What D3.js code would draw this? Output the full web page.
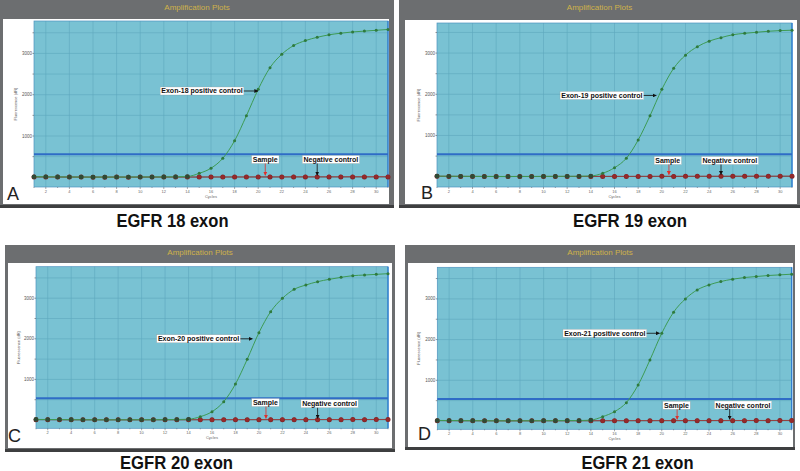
<!DOCTYPE html>
<html><head><meta charset="utf-8">
<script src="https://cdn.jsdelivr.net/npm/d3@7/dist/d3.min.js"></script>
<style>body{margin:0;background:#fff}svg{display:block}</style>
</head><body><svg id="c" width="800" height="471"></svg>
<script>
// ---------------- DATA ----------------
const cycles = [1,2,3,4,5,6,7,8,9,10,11,12,13,14,15,16,17,18,19,20,21,22,23,24,25,26,27,28,29,30,31];
const xTickValues = [2,4,6,8,10,12,14,16,18,20,22,24,26,28,30];
const yTickValues = [1000,2000,3000];
const yGridValues = [500,1000,1500,2000,2500,3000,3500];
const panelLetters = ["A","B","C","D"];
const panelTitles = ["EGFR 18 exon","EGFR 19 exon","EGFR 20 exon","EGFR 21 exon"];
const positiveLabels = ["Exon-18 positive control","Exon-19 positive control","Exon-20 positive control","Exon-21 positive control"];
const positiveExon18 = [15,12,10,8,6,5,5,6,6,8,8,10,12,20,95,220,460,886,1490,2130,2655,2980,3190,3310,3390,3450,3490,3520,3540,3560,3580];
const positiveExon19 = [14,12,10,8,6,5,5,6,6,8,8,10,12,18,82,218,447,890,1480,2120,2630,2950,3155,3290,3375,3445,3480,3505,3530,3545,3555];
const positiveExon20 = [15,13,11,9,7,6,5,6,6,8,8,10,12,20,82,205,452,887,1494,2151,2668,2997,3218,3325,3407,3465,3514,3555,3571,3588,3604];
const positiveExon21 = [14,12,10,8,6,5,5,6,6,8,8,10,12,22,107,230,451,885,1500,2156,2672,3000,3221,3344,3426,3484,3525,3549,3574,3590,3607];
const sampleValues = [12,10,8,8,6,6,5,6,5,6,7,6,8,7,8,9,8,10,9,10,11,10,12,11,12,13,12,14,13,14,15];
const negativeValues = [8,7,6,5,5,4,4,5,4,5,5,6,5,6,6,7,6,7,7,8,7,8,8,9,8,9,9,10,9,10,10];
const thresholdValues = [557,544,534,540];
const positiveSeries = [positiveExon18, positiveExon19, positiveExon20, positiveExon21];

// ---------------- LAYOUT ----------------
const panels = [
  {frame:[0,0,394,208], inner:[3,19,389,204], plot:[34,21,388,187], yDom:[-235,3785], axisTitleX:17,
   letter:[7,199.5], title:[172.5,227,112],
   pos:{labelEnd:18.68,labelV:2090,tipC:19.98,tipV:2090},
   samp:{labelC:20.6,labelV:431,tipC:20.6,tipV:50},
   neg:{labelC:26.16,labelV:431,tipC:25.0,tipV:50}},
  {frame:[399,0,800,208], inner:[405,20,797,204], plot:[437,23,792,187], yDom:[-250,3730], axisTitleX:420,
   letter:[421,198.5], title:[630,227,114],
   pos:{labelEnd:18.37,labelV:1971,tipC:19.53,tipV:1971},
   samp:{labelC:20.5,labelV:393,tipC:20.6,tipV:50},
   neg:{labelC:25.75,labelV:393,tipC:25.0,tipV:50}},
  {frame:[5,245,395,452], inner:[8,263,392,448], plot:[36,266.7,388,428.3], yDom:[-204,3776], axisTitleX:20,
   letter:[8,441.5], title:[176.5,468.5,113],
   pos:{labelEnd:18.32,labelV:2000,tipC:19.44,tipV:2000},
   samp:{labelC:20.55,labelV:431,tipC:20.6,tipV:40},
   neg:{labelC:26.02,labelV:401,tipC:25.0,tipV:40}},
  {frame:[405,245,795,450], inner:[408,263,793,447], plot:[437.3,267.3,791.7,429.3], yDom:[-204,3776], axisTitleX:420,
   letter:[418,440], title:[637.5,468.5,112],
   pos:{labelEnd:18.62,labelV:2155,tipC:19.81,tipV:2155},
   samp:{labelC:21.25,labelV:386,tipC:21.3,tipV:40},
   neg:{labelC:26.88,labelV:393,tipC:25.75,tipV:40}}
];

const svg = d3.select("#c");
const defs = svg.append("defs");
function marker(id, color){
  defs.append("marker").attr("id",id).attr("viewBox","0 0 10 10").attr("refX",9).attr("refY",5)
    .attr("markerWidth",4).attr("markerHeight",4).attr("markerUnits","userSpaceOnUse").attr("orient","auto")
    .append("path").attr("d","M0,0L10,5L0,10Z").attr("fill",color);
}
marker("arrK","#111");
marker("arrR","#e0302c");

const FONT = "Liberation Sans, Arial, Helvetica, sans-serif";

panels.forEach((p, i) => {
  const g = svg.append("g");
  const [fx0, fy0, fx1, fy1] = p.frame;
  const [ix0, iy0, ix1, iy1] = p.inner;
  const [px0, py0, px1, py1] = p.plot;
  // frame
  g.append("rect").attr("x",fx0).attr("y",fy0).attr("width",fx1-fx0).attr("height",fy1-fy0).attr("fill","#6c6e70");
  g.append("rect").attr("x",fx0).attr("y",fy1-3).attr("width",fx1-fx0).attr("height",3).attr("fill","#3e3f40");
  g.append("text").attr("x",(fx0+fx1)/2).attr("y",fy0+10).attr("text-anchor","middle")
    .attr("font-family",FONT).attr("font-size",8).attr("fill","#cfb24a").text("Amplification Plots");
  g.append("rect").attr("x",ix0).attr("y",iy0).attr("width",ix1-ix0).attr("height",iy1-iy0).attr("fill","#ffffff");

  const x = d3.scaleLinear().domain([1,31]).range([px0,px1]);
  const y = d3.scaleLinear().domain(p.yDom).range([py1,py0]);

  // plot background
  g.append("rect").attr("x",px0).attr("y",py0).attr("width",px1-px0).attr("height",py1-py0).attr("fill","#79c2d3");
  // grid
  g.selectAll(".vg").data(xTickValues).enter().append("line")
    .attr("x1",d=>x(d)).attr("x2",d=>x(d)).attr("y1",py0).attr("y2",py1)
    .attr("stroke","#5ea7bd").attr("stroke-width",0.6);
  g.selectAll(".hg").data(yGridValues).enter().append("line")
    .attr("x1",px0).attr("x2",px1).attr("y1",d=>y(d)).attr("y2",d=>y(d))
    .attr("stroke","#5ea7bd").attr("stroke-width",0.6);
  // plot border
  g.append("rect").attr("x",px0).attr("y",py0).attr("width",px1-px0).attr("height",py1-py0)
    .attr("fill","none").attr("stroke","#4f93bf").attr("stroke-width",0.7);
  g.append("line").attr("x1",px1).attr("x2",px1).attr("y1",py0).attr("y2",py1)
    .attr("stroke","#2f7fd0").attr("stroke-width",1.4);

  // threshold
  g.append("line").attr("x1",px0).attr("x2",px1).attr("y1",y(thresholdValues[i])).attr("y2",y(thresholdValues[i]))
    .attr("stroke","#2f6cc6").attr("stroke-width",2);

  const line = d3.line().x((d,k)=>x(cycles[k])).y(d=>y(d)).curve(d3.curveMonotoneX);

  // negative control & sample
  g.append("path").datum(negativeValues).attr("d",line).attr("fill","none").attr("stroke","#3b3b3b").attr("stroke-width",0.8);
  g.append("path").datum(sampleValues).attr("d",line).attr("fill","none").attr("stroke","#b83430").attr("stroke-width",0.7);
  g.selectAll(".nd").data(negativeValues).enter().append("circle")
    .attr("cx",(d,k)=>x(cycles[k])).attr("cy",d=>y(d)).attr("r",2.5).attr("fill","#7e2628");
  g.selectAll(".sd").data(sampleValues).enter().append("circle")
    .attr("cx",(d,k)=>x(cycles[k])).attr("cy",d=>y(d)).attr("r",2.0).attr("fill","#96292a");

  // positive control
  const pos = positiveSeries[i];
  g.append("path").datum(pos).attr("d",line).attr("fill","none").attr("stroke","#3d9b54").attr("stroke-width",1);
  g.selectAll(".pd").data(pos).enter().append("circle")
    .attr("cx",(d,k)=>x(cycles[k])).attr("cy",d=>y(d)).attr("r",(d,k)=> cycles[k] < 15 ? 2.3 : 1.5)
    .attr("fill",(d,k)=> cycles[k] < 15 ? "#2f4a35" : "#2e7a3e");

  // axes ticks & labels
  g.selectAll(".xt").data(cycles).enter().append("line")
    .attr("x1",d=>x(d)).attr("x2",d=>x(d)).attr("y1",py1).attr("y2",d=> d%2===0 ? py1+2 : py1+1)
    .attr("stroke","#555").attr("stroke-width",0.5);
  g.selectAll(".xl").data(xTickValues).enter().append("text")
    .attr("x",d=>x(d)).attr("y",py1+5.5).attr("text-anchor","middle")
    .attr("font-family",FONT).attr("font-size",4).attr("fill","#666").text(d=>d);
  g.append("text").attr("x",(px0+px1)/2).attr("y",py1+11).attr("text-anchor","middle")
    .attr("font-family",FONT).attr("font-size",4).attr("fill","#666").text("Cycles");
  g.selectAll(".yt").data(yGridValues).enter().append("line")
    .attr("x1",px0-1.5).attr("x2",px0).attr("y1",d=>y(d)).attr("y2",d=>y(d))
    .attr("stroke","#555").attr("stroke-width",0.6);
  g.selectAll(".yl").data(yTickValues).enter().append("text")
    .attr("x",px0-2).attr("y",d=>y(d)+1.5).attr("text-anchor","end")
    .attr("font-family",FONT).attr("font-size",4.5).attr("fill","#555").text(d=>d);
  g.append("text").attr("transform",`translate(${p.axisTitleX},${(py0+py1)/2}) rotate(-90)`)
    .attr("text-anchor","middle").attr("font-family",FONT).attr("font-size",4).attr("fill","#555")
    .text("Fluorescence (dR)");

  // annotations
  function label(txt, xc, yc, anchor){
    const t = g.append("text").attr("font-family",FONT).attr("font-weight","bold").attr("font-size",7)
      .attr("fill","#111").attr("text-anchor",anchor).attr("x",xc).attr("y",yc+2.5).text(txt);
    const bb = t.node().getBBox();
    g.insert("rect", () => t.node()).attr("x",bb.x-1.2).attr("y",yc-4).attr("width",bb.width+2.4).attr("height",8)
      .attr("fill","#fff").attr("stroke","#999").attr("stroke-width",0.3);
    return bb;
  }
  // positive control label and arrow
  const tipX = x(p.pos.tipC), tipY = y(p.pos.tipV);
  label(positiveLabels[i], x(p.pos.labelEnd), y(p.pos.labelV), "end");
  g.append("line").attr("x1",x(p.pos.labelEnd)+1.2).attr("y1",y(p.pos.labelV)).attr("x2",tipX).attr("y2",tipY)
    .attr("stroke","#111").attr("stroke-width",0.8).attr("marker-end","url(#arrK)");
  // sample
  label("Sample", x(p.samp.labelC), y(p.samp.labelV), "middle");
  g.append("line").attr("x1",x(p.samp.tipC)).attr("y1",y(p.samp.labelV)+4).attr("x2",x(p.samp.tipC)).attr("y2",y(p.samp.tipV))
    .attr("stroke","#e0302c").attr("stroke-width",0.8).attr("marker-end","url(#arrR)");
  // negative
  label("Negative control", x(p.neg.labelC), y(p.neg.labelV), "middle");
  g.append("line").attr("x1",x(p.neg.tipC)).attr("y1",y(p.neg.labelV)+4).attr("x2",x(p.neg.tipC)).attr("y2",y(p.neg.tipV))
    .attr("stroke","#111").attr("stroke-width",0.8).attr("marker-end","url(#arrK)");

  // panel letter
  g.append("text").attr("x",p.letter[0]).attr("y",p.letter[1]).attr("font-family",FONT)
    .attr("font-size",18).attr("fill","#222").text(panelLetters[i]);
  // caption
  g.append("text").attr("x",p.title[0]).attr("y",p.title[1]).attr("text-anchor","middle")
    .attr("font-family",FONT).attr("font-weight","bold").attr("font-size",18).attr("fill","#111")
    .attr("textLength",p.title[2]).attr("lengthAdjust","spacingAndGlyphs").text(panelTitles[i]);
});
</script></body></html>
